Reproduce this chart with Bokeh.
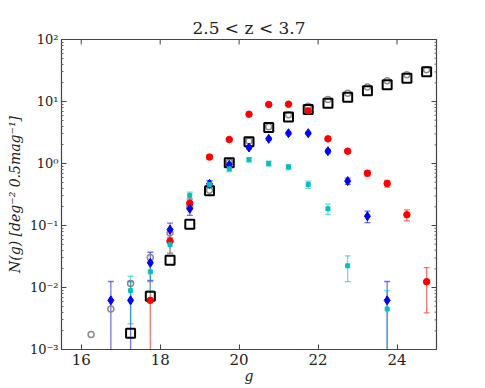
import numpy as np
from bokeh.plotting import figure
from bokeh.models import (Range1d, FixedTicker, CustomJSTickFormatter,
                          ColumnDataSource, Whisker, TeeHead)
from bokeh.embed import file_html
from bokeh.resources import INLINE

# ---- data ----
g_all = [16.25, 16.75, 17.25, 17.75, 18.25, 18.75, 19.25, 19.75, 20.25, 20.75,
         21.25, 21.75, 22.25, 22.75, 23.25, 23.75, 24.25, 24.75]

gray_g = g_all
gray_n = [0.00175, 0.0045, 0.0116, 0.0305, 0.076, 0.197, 0.37, 1.05, 2.3, 3.9,
          6.1, 8.4, 10.8, 13.6, 17.2, 21.6, 27.0, 32.5]

black_g = [17.25, 17.75, 18.25, 18.75, 19.25, 19.75, 20.25, 20.75, 21.25, 21.75,
           22.25, 22.75, 23.25, 23.75, 24.25, 24.75]
black_n = [0.00183, 0.0072, 0.0276, 0.105, 0.363, 1.03, 2.25, 3.8, 5.6, 7.4,
           9.4, 11.7, 14.9, 18.6, 23.8, 30.1]

red_g = [17.75, 18.25, 18.75, 19.25, 19.75, 20.25, 20.75, 21.25, 21.75, 22.25,
         22.75, 23.25, 23.75, 24.25, 24.75]
red_n = [0.0062, 0.0558, 0.229, 1.27, 2.44, 6.24, 8.95, 9.05, 7.08, 2.50,
         1.58, 0.698, 0.476, 0.149, 0.0124]
red_e = [0.0063, 0.02, 0.04, 0.1, 0.13, 0.2, 0.25, 0.25, 0.22, 0.13,
         0.1, 0.07, 0.06, 0.03, 0.0085]

blue_g = [16.75, 17.25, 17.75, 18.25, 18.75, 19.25, 19.75, 20.25, 20.75, 21.25,
          21.75, 22.25, 22.75, 23.25, 23.75]
blue_n = [0.0062, 0.0062, 0.025, 0.086, 0.186, 0.47, 0.953, 1.81, 2.50, 3.08,
          3.08, 1.58, 0.52, 0.141, 0.0062]
blue_e = [0.0063, 0.0063, 0.012, 0.023, 0.04, 0.06, 0.08, 0.1, 0.13, 0.15,
          0.15, 0.11, 0.06, 0.03, 0.0063]

cyan_g = [17.25, 17.75, 18.25, 18.75, 19.25, 19.75, 20.25, 20.75, 21.25, 21.75,
          22.25, 22.75, 23.75]
cyan_n = [0.0089, 0.0179, 0.049, 0.305, 0.46, 0.82, 1.15, 1.0, 0.88, 0.458,
          0.186, 0.0224, 0.0045]
cyan_e = [0.0063, 0.009, 0.014, 0.04, 0.06, 0.08, 0.09, 0.09, 0.08, 0.06,
          0.035, 0.01, 0.0044]

y_ticks = [1e-3, 1e-2, 1e-1, 1e0, 1e1, 1e2]
x_ticks = [16, 18, 20, 22, 24]
title_text = "2.5 < z < 3.7"
x_label = "g"
y_label = "N(g) [deg⁻² 0.5mag⁻¹]"

SERIF = "DejaVu Serif"
X0, X1 = 15.5, 25.0
Y0, Y1 = 1e-3, 1e2

p = figure(frame_width=375, frame_height=310, output_backend="svg", toolbar_location=None,
           x_range=Range1d(X0, X1), y_range=Range1d(Y0, Y1), y_axis_type="log",
           min_border_left=61, min_border_top=39, min_border_right=30, min_border_bottom=10)
p.grid.visible = False
p.outline_line_color = "#444444"
p.outline_line_width = 1.2
p.background_fill_color = "white"
p.border_fill_color = "white"

p.title.text = title_text
p.title.text_font = SERIF
p.title.text_font_size = "17px"
p.title.text_font_style = "normal"
p.title.align = "center"
p.title.text_color = "#222222"
p.title.standoff = 4

minor = []
for d in range(-3, 2):
    for k in range(2, 10):
        minor.append(k * 10.0 ** d)

sup_js = """
const sup = {"-":"\u207b","0":"\u2070","1":"\u00b9","2":"\u00b2","3":"\u00b3","4":"\u2074",
             "5":"\u2075","6":"\u2076","7":"\u2077","8":"\u2078","9":"\u2079"};
const e = Math.round(Math.log10(tick));
return "10" + String(e).split("").map(c => sup[c]).join("");
"""

xa = p.xaxis[0]
xa.ticker = FixedTicker(ticks=x_ticks)
ya = p.yaxis[0]
ya.ticker = FixedTicker(ticks=y_ticks, minor_ticks=minor)
ya.formatter = CustomJSTickFormatter(code=sup_js)
xa.axis_label = x_label
ya.axis_label = y_label

for ax in (xa, ya):
    ax.axis_line_color = None
    ax.major_tick_in = 5
    ax.major_tick_out = 0
    ax.minor_tick_in = 2
    ax.minor_tick_out = 0
    ax.major_tick_line_color = "#444444"
    ax.minor_tick_line_color = "#666666"
    ax.major_label_text_font = SERIF
    ax.major_label_text_font_size = "15px"
    ax.major_label_text_color = "#222222"
    ax.axis_label_text_font = SERIF
    ax.axis_label_text_font_style = "italic"
    ax.axis_label_text_font_size = "14px"
    ax.axis_label_text_color = "#222222"
xa.axis_label_standoff = 0
ya.axis_label_standoff = 4
ya.major_label_text_font_size = "13px"
xa.major_label_standoff = 4
ya.major_label_standoff = 3

# mirrored ticks on top and right edges (half of each dash is clipped by the frame)
p.scatter(x_ticks, [Y1] * len(x_ticks), marker="dash", angle=np.pi / 2, size=10,
          line_color="#444444", line_width=1)
p.scatter([X1] * len(y_ticks), y_ticks, marker="dash", size=10,
          line_color="#444444", line_width=1)
p.scatter([X1] * len(minor), minor, marker="dash", size=4,
          line_color="#666666", line_width=1)


def errbars(xs, ys, es, color, alpha=0.55):
    lo = [max(y - e, 1e-5) for y, e in zip(ys, es)]
    hi = [y + e for y, e in zip(ys, es)]
    src = ColumnDataSource(dict(x=xs, lo=lo, hi=hi))
    w = Whisker(source=src, base="x", lower="lo", upper="hi", dimension="height",
                line_color=color, line_alpha=alpha, line_width=1.3,
                upper_head=TeeHead(size=6, line_color=color, line_alpha=alpha, line_width=1.3),
                lower_head=TeeHead(size=6, line_color=color, line_alpha=alpha, line_width=1.3))
    p.add_layout(w)


errbars(red_g, red_n, red_e, "red")
errbars(blue_g, blue_n, blue_e, "blue")
errbars(cyan_g, cyan_n, cyan_e, "#00bfbf")

p.scatter(gray_g, gray_n, marker="circle", size=6, fill_color=None,
          line_color="#808080", line_width=1.5, line_alpha=0.9)
p.scatter(black_g, black_n, marker="square", size=9, fill_color=None,
          line_color="black", line_width=2)
p.scatter(red_g, red_n, marker="circle", size=6.5, fill_color="red", line_color="red")
p.scatter(blue_g, blue_n, marker="diamond", size=9, fill_color="blue", line_color="blue")
p.scatter(cyan_g, cyan_n, marker="square", size=4, fill_color="#00bfbf", line_color="#00bfbf")

open("out.html", "w").write(file_html(p, INLINE))
